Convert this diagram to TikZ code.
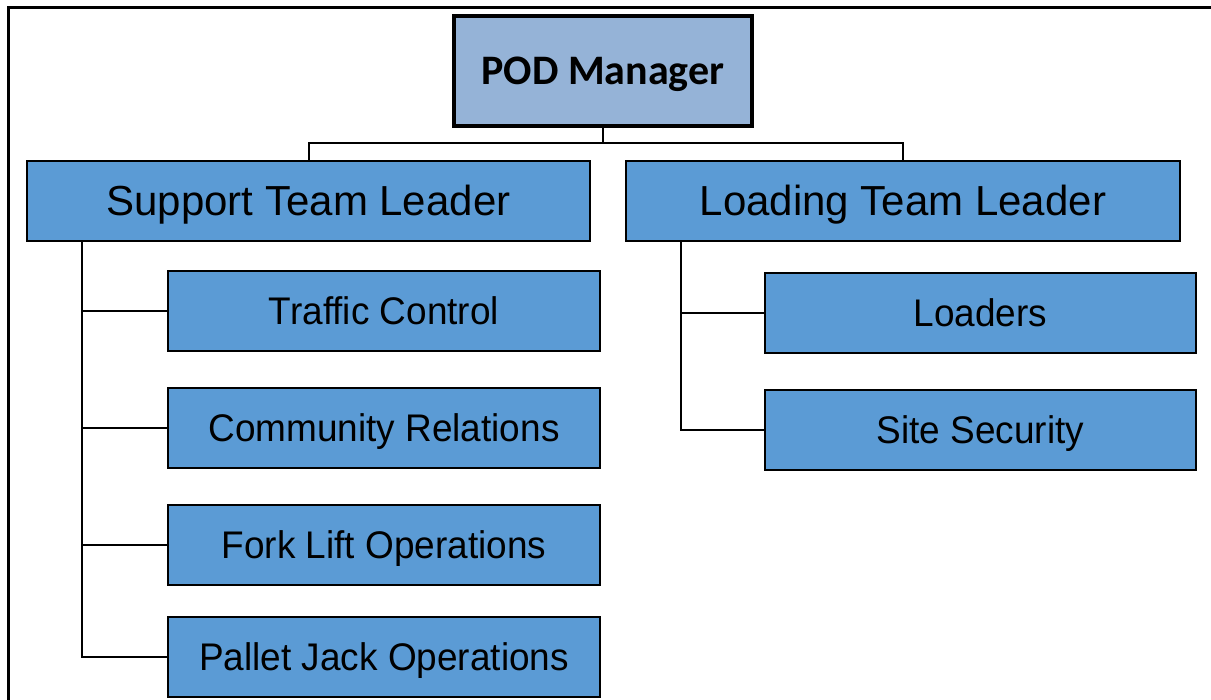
\documentclass[tikz,border=0pt]{standalone}
\usepackage{fontspec}
\setmainfont{Liberation Sans}
\newfontfamily\calibri{Carlito}
\newfontfamily\narrowsans[FakeStretch=0.96]{Liberation Sans}
\definecolor{podfill}{HTML}{95B3D7}
\definecolor{unitfill}{HTML}{5B9BD5}
\begin{document}
\begin{tikzpicture}[x=1pt, y=-1pt,
  manager/.style={draw=black, line width=4.5pt, fill=podfill, minimum width=298pt,
    minimum height=110pt, inner sep=0pt, text height=27pt, text depth=0pt,
    font=\calibri\bfseries\fontsize{42}{50}\selectfont},
  leader/.style={draw=black, line width=2pt, fill=unitfill, minimum height=80pt,
    inner sep=0pt, text height=30pt, text depth=0pt, font=\fontsize{42}{50}\selectfont},
  unit/.style={draw=black, line width=2pt, fill=unitfill, minimum height=80pt,
    inner sep=0pt, text height=27.5pt, text depth=0pt,
    font=\narrowsans\fontsize{38.5}{46}\selectfont},
  link/.style={draw=black, line width=2pt}]
\useasboundingbox (0,0) rectangle (1211,700);
\clip (0,0) rectangle (1211,700);
% outer frame (runs past the right and bottom edges)
\draw[line width=3pt] (8.5,7.5) rectangle (1240,730);

% boxes
\node[manager] (pod) at (603,71) {POD Manager};
\node[leader, minimum width=563pt] (stl) at (308.5,201) {Support Team Leader};
\node[leader, minimum width=554pt] (ltl) at (903,201) {Loading Team Leader};

\node[unit, minimum width=432pt] (tc) at (384,311) {Traffic Control};
\node[unit, minimum width=432pt] (cr) at (384,428) {Community Relations};
\node[unit, minimum width=432pt] (fl) at (384,545) {Fork Lift Operations};
\node[unit, minimum width=432pt] (pj) at (384,657) {Pallet Jack Operations};

\node[unit, minimum width=431pt] (ld) at (980.5,313) {Loaders};
\node[unit, minimum width=431pt] (ss) at (980.5,430) {Site Security};

% connectors
\coordinate (bus) at (603,143);
\coordinate (sx) at (82,0);
\coordinate (lx) at (681,0);
\draw[link] (pod.south) -- (bus);
\draw[link] (stl.north) |- (bus) -| (ltl.north);

\draw[link] (stl.south -| sx) |- (pj.west);
\draw[link] (tc.west -| sx) -- (tc.west);
\draw[link] (cr.west -| sx) -- (cr.west);
\draw[link] (fl.west -| sx) -- (fl.west);

\draw[link] (ltl.south -| lx) |- (ss.west);
\draw[link] (ld.west -| lx) -- (ld.west);
\end{tikzpicture}
\end{document}
